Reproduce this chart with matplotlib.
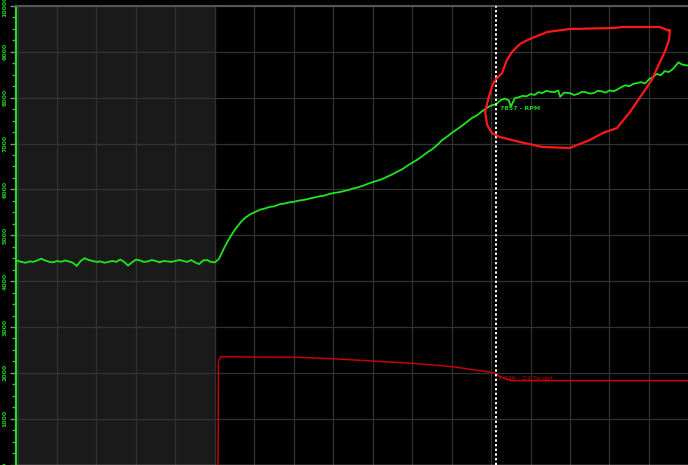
import numpy as np
import matplotlib
matplotlib.use("Agg")
import matplotlib.pyplot as plt
from matplotlib.ticker import MultipleLocator

# RPM trace (time units = grid columns)
rpm_t = [-0.04, 0.1, 0.2, 0.3, 0.4, 0.5, 0.6, 0.7, 0.8, 0.9,
         1.0, 1.1, 1.2, 1.3, 1.4, 1.5, 1.6, 1.7, 1.8, 1.9,
         2.0, 2.1, 2.2, 2.3, 2.4, 2.5, 2.6, 2.7, 2.8, 2.9,
         3.0, 3.1, 3.2, 3.3, 3.4, 3.5, 3.6, 3.7, 3.8, 3.9,
         4.0, 4.1, 4.2, 4.3, 4.4, 4.5, 4.6, 4.7, 4.8, 4.9, 5.0,
         5.1, 5.25, 5.4, 5.5, 5.65, 5.75, 5.9, 6.0, 6.15, 6.25, 6.4, 6.5, 6.65,
         6.75, 6.9, 7.0, 7.15, 7.25, 7.4, 7.5, 7.65, 7.75, 7.9, 8.0, 8.15,
         8.25, 8.4, 8.5, 8.65, 8.75, 8.9, 9.0, 9.15, 9.25, 9.4, 9.5, 9.65,
         9.75, 9.9, 10.0, 10.15, 10.25, 10.4, 10.5, 10.65, 10.75, 10.9,
         11.0, 11.15, 11.25, 11.4, 11.5, 11.65, 11.75, 11.9, 12.0, 12.12,
         12.25, 12.35, 12.45, 12.5, 12.6, 12.7, 12.8, 12.9, 13.0, 13.1, 13.2,
         13.3, 13.4, 13.5, 13.6, 13.7, 13.75, 13.85, 14.0, 14.1, 14.2, 14.3,
         14.4, 14.5, 14.6, 14.7, 14.8, 14.9, 15.0, 15.1, 15.2, 15.3, 15.4,
         15.5, 15.6, 15.7, 15.8, 15.9, 16.0, 16.1, 16.2, 16.3, 16.4, 16.5,
         16.6, 16.75, 16.85, 17.0]
rpm_v = [4450, 4420, 4400, 4430, 4420, 4450, 4490, 4450, 4420, 4410,
         4440, 4420, 4450, 4430, 4400, 4330, 4440, 4500, 4460, 4440,
         4420, 4430, 4400, 4420, 4440, 4420, 4470, 4420, 4340, 4410,
         4470, 4450, 4420, 4430, 4460, 4440, 4410, 4440, 4430, 4420,
         4440, 4460, 4440, 4420, 4460, 4410, 4370, 4450, 4460, 4420, 4410,
         4480, 4750, 4980, 5115, 5280, 5370, 5460, 5500, 5560, 5580, 5620, 5630, 5680,
         5690, 5720, 5730, 5760, 5770, 5800, 5820, 5850, 5860, 5900, 5920, 5940,
         5960, 5990, 6020, 6050, 6080, 6130, 6160, 6200, 6230, 6290, 6330, 6400,
         6440, 6530, 6580, 6660, 6720, 6820, 6870, 6980, 7070, 7160,
         7230, 7320, 7380, 7480, 7550, 7620, 7690, 7780, 7830, 7857,
         7950, 7980, 7940, 7800, 7990, 8010, 8040, 8030, 8080, 8060, 8120,
         8100, 8150, 8130, 8120, 8160, 8020, 8110, 8100, 8060, 8080, 8130,
         8120, 8090, 8100, 8150, 8140, 8110, 8160, 8140, 8180, 8230, 8270,
         8250, 8300, 8320, 8340, 8310, 8400, 8450, 8520, 8490, 8580, 8560,
         8620, 8770, 8720, 8700]

# O2 target trace, drawn on the same scale
o2_t = [5.08, 5.09, 5.15, 6.0, 7.07, 7.99, 9.0, 10.02, 11.03, 11.9, 12.12, 12.22, 12.5, 17.0]
o2_v = [-50, 2250, 2350, 2345, 2338, 2308, 2257, 2207, 2133, 2024, 1990, 1915, 1830, 1830]

# hand-drawn circle marking the plateau
ring_t = [16.53, 16.51, 16.40, 16.28, 16.07, 15.85, 15.52, 15.19, 14.83, 14.50,
          13.99, 13.31, 12.73, 12.22, 12.02, 11.90, 11.85, 11.92, 12.02, 12.10,
          12.28, 12.40, 12.53, 12.73, 12.98, 13.42, 13.99, 15.09, 15.34, 16.28, 16.48]
ring_v = [9471, 9258, 8997, 8779, 8386, 8103, 7688, 7339, 7230, 7077,
          6903, 6925, 7034, 7143, 7230, 7405, 7688, 7950, 8233, 8386,
          8539, 8822, 8997, 9171, 9280, 9433, 9498, 9520, 9542, 9542, 9471]

cursor_t = 12.12
shade_end = 5.0
rpm_label = "7857 - RPM"
o2_label = "1.926 - O2 Target"

fig = plt.figure(figsize=(6.88, 4.65), dpi=100, facecolor='black')
ax = fig.add_axes([16 / 688, 0, 672 / 688, 459 / 465])
ax.set_facecolor('black')

ax.axvspan(-0.04, shade_end, color='#1a1a1a', zorder=0)

ax.set_xlim(-0.04, 16.99)
ax.set_ylim(-10, 10000)
ax.xaxis.set_major_locator(MultipleLocator(1))
ax.yaxis.set_major_locator(MultipleLocator(1000))
ax.yaxis.set_minor_locator(MultipleLocator(250))
ax.grid(True, color='#333333', lw=0.9, zorder=1)

ax.plot(o2_t, o2_v, color='#c40000', lw=1.1, zorder=3)
ax.plot(rpm_t, rpm_v, color='#1ee61e', lw=1.3, zorder=4)
ax.axvline(cursor_t, color='white', lw=1.4, ls=(0, (1.2, 1.2)), zorder=5)
ax.plot(ring_t, ring_v, color='#ff1818', lw=1.6, zorder=6)

ax.text(cursor_t + 0.1, 7775, rpm_label, color='#22cc22', fontsize=4.5,
        fontweight='bold', va='center', ha='left', zorder=7)
ax.text(cursor_t + 0.05, 1887, o2_label, color='#cc0000', fontsize=4.5,
        va='center', ha='left', zorder=7)

# axis styling
ax.tick_params(axis='x', which='both', bottom=False, labelbottom=False)
ax.tick_params(axis='y', which='major', length=4, color='#888888', width=1,
               labelcolor='#22cc22', labelsize=4.5, pad=2)
ax.tick_params(axis='y', which='minor', length=3, color='#888888', width=1)
for lab in ax.get_yticklabels():
    lab.set_rotation(90)
    lab.set_va('center')
    lab.set_fontweight('bold')

ax.spines['left'].set_color('#22dd22')
ax.spines['left'].set_linewidth(1.6)
ax.spines['top'].set_color('#555555')
ax.spines['top'].set_linewidth(1.5)
ax.spines['bottom'].set_color('#aaaaaa')
ax.spines['bottom'].set_linewidth(1.0)
ax.spines['right'].set_visible(False)

fig.savefig('out.png', dpi=100, facecolor='black')
